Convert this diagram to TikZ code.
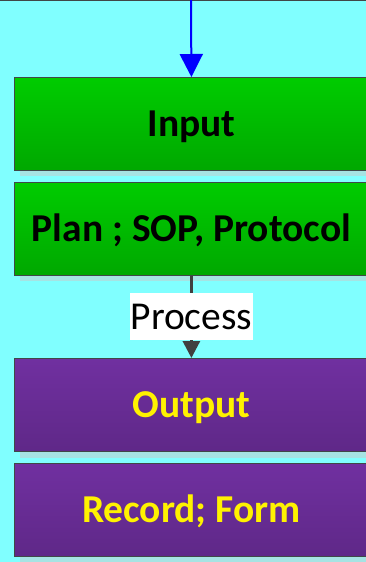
\documentclass[tikz,border=0pt]{standalone}
\usepackage{fontspec}
\setmainfont{Carlito}
\usetikzlibrary{arrows.meta}
\definecolor{bgcyan}{HTML}{80FFFF}
\definecolor{shadowc}{HTML}{A6E3E3}
\definecolor{gtop}{HTML}{00CC00}
\definecolor{gbot}{HTML}{00A800}
\definecolor{ptop}{HTML}{7030A0}
\definecolor{pbot}{HTML}{5F2888}
\definecolor{edgec}{HTML}{404848}
\definecolor{arrgray}{HTML}{404040}
\begin{document}
\begin{tikzpicture}[x=1pt,y=-1pt,
  box/.style={draw=edgec, line width=0.8pt, minimum width=354pt, minimum height=93pt,
    inner sep=0pt, text height=25pt, text depth=0pt, anchor=north west,
    font=\fontsize{39.5}{46}\selectfont\bfseries},
  greenbox/.style={box, top color=gtop, bottom color=gbot, text=black},
  purplebox/.style={box, top color=ptop, bottom color=pbot, text=yellow},
  shadowbox/.style={fill=shadowc, draw=none}
]
\useasboundingbox (0,0) rectangle (366,562);
\fill[bgcyan] (0,0) rectangle (366,562);
\draw[edgec, line width=0.8pt] (0,0.4) -- (366,0.4);
% shadows
\fill[shadowbox] (20,83) rectangle (374,176);
\fill[shadowbox] (20,188) rectangle (374,281);
\fill[shadowbox] (20,364) rectangle (374,458);
\fill[shadowbox] (20,469) rectangle (374,563);
% boxes
\node[greenbox] (input) at (14,77) {Input};
\node[greenbox] (plan) at (14,182) {Plan ; SOP, Protocol};
\node[purplebox] (output) at (14,358) {Output};
\node[purplebox] (record) at (14,463) {Record; Form};
% arrows
\coordinate (topin) at (191,0);
\draw[blue, line width=2pt, -{Triangle[length=23pt,width=23pt]}] (topin) -- (input.north);
\draw[arrgray, line width=3pt, -{Triangle[length=17pt,width=17pt]}] (plan.south) -- (output.north)
  node[pos=0.5, fill=white, text=black, inner xsep=0.5pt, inner ysep=0pt, minimum height=47pt,
       text height=25pt, text depth=0pt, font=\fontsize{39.5}{46}\selectfont] (proc) {Process};
\end{tikzpicture}
\end{document}
